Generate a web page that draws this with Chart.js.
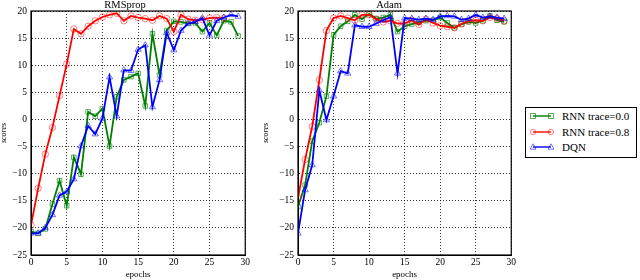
<!DOCTYPE html>
<html>
<head>
<meta charset="utf-8">
<script src="https://cdn.jsdelivr.net/npm/chart.js@4.4.1/dist/chart.umd.min.js"></script>
<style>
  body { margin: 0; background: #fff; width: 640px; height: 280px; position: relative; overflow: hidden; }
  canvas.plot { position: absolute; top: 0; }
  #legend {
    position: absolute; left: 525px; top: 107px; width: 112px; height: 51px;
    border: 1px solid #000; box-sizing: border-box;
    font-family: "Liberation Serif", serif; font-size: 11px; color: #000;
  }
  #legend .row { position: absolute; left: 0; height: 14px; line-height: 14px; }
  #legend canvas { position: absolute; left: 4px; top: 2px; }
  #legend span { position: absolute; left: 36px; top: 0; white-space: nowrap; }
</style>
</head>
<body>
<canvas class="plot" id="rmsChart" width="252" height="280" style="left:0px"></canvas>
<canvas class="plot" id="adamChart" width="256" height="280" style="left:262px"></canvas>
<div id="legend"></div>
<script>
'use strict';

const epochs = [0, 1, 2, 3, 4, 5, 6, 7, 8, 9, 10, 11, 12, 13, 14, 15, 16, 17, 18, 19, 20, 21, 22, 23, 24, 25, 26, 27, 28, 29];
const yTicks = [-25, -20, -15, -10, -5, 0, 5, 10, 15, 20];
const xTicks = [0, 5, 10, 15, 20, 25, 30];
const seriesNames = ['RNN trace=0.0', 'RNN trace=0.8', 'DQN'];

// RMSprop 패널
const rmsTrace00 = [-20.7, -21.0, -20.2, -15.6, -11.3, -15.9, -7.0, -10.1, 1.4, 0.6, 2.0, -4.9, 4.2, 7.3, 7.9, 8.5, 2.5, 15.8, 8.2, 16.4, 18.1, 18.0, 17.7, 17.8, 16.2, 17.8, 15.5, 18.2, 18.0, 15.4];
const rmsTrace08 = [-19.5, -12.7, -6.4, -1.5, 4.4, 10.2, 16.7, 15.8, 17.2, 18.2, 18.9, 19.3, 19.6, 18.2, 19.1, 18.8, 18.6, 18.3, 19.1, 18.6, 16.2, 19.3, 18.5, 18.3, 18.4, 18.7, 18.8, 18.7];
const rmsDqn = [-21.0, -21.0, -20.0, -17.6, -14.0, -13.3, -11.0, -4.9, -1.2, -2.7, 0.2, 7.8, 0.6, 9.1, 9.0, 12.9, 13.7, 2.3, 7.3, 16.0, 12.8, 16.4, 17.7, 18.0, 18.7, 15.5, 18.2, 18.8, 19.3, 19.0];

// Adam 패널
const adamTrace00 = [-16.1, -12.1, -4.0, -0.6, 4.3, 15.6, 17.2, 18.1, 19.3, 18.5, 19.5, 18.6, 18.8, 19.3, 16.2, 17.2, 17.6, 17.9, 18.2, 18.3, 18.8, 17.8, 16.9, 17.6, 18.0, 17.8, 18.2, 19.1, 18.3, 18.0];
const adamTrace08 = [-14.5, -7.4, -1.3, 7.3, 16.4, 18.7, 19.1, 18.7, 18.3, 19.3, 19.3, 18.5, 18.0, 18.2, 17.7, 17.7, 18.3, 17.5, 18.5, 17.8, 17.3, 17.1, 16.9, 17.6, 18.2, 18.3, 18.2, 18.8, 18.6, 18.2];
const adamDqn = [-21.0, -13.0, -8.4, 5.4, -0.1, 4.3, 8.9, 8.5, 17.4, 17.1, 17.1, 17.7, 18.3, 18.9, 8.5, 18.7, 18.6, 18.4, 18.6, 18.4, 19.0, 19.1, 19.0, 18.4, 18.6, 19.3, 18.8, 19.0, 18.8, 18.6];

const FONT = '"Liberation Serif", serif';
const styles = [
    { line: '#008000', marker: 'rgba(0,128,0,0.65)', shape: 'rect', radius: 3.2, order: 2 },
    { line: '#ff0000', marker: 'rgba(255,0,0,0.5)', shape: 'circle', radius: 3.2, order: 1 },
    { line: '#0000ff', marker: 'rgba(0,0,255,0.55)', shape: 'triangle', radius: 3.6, order: 0 }
];

function toPoints(values) {
    return values.map((v, i) => ({ x: epochs[i], y: v }));
}

function makeDataset(idx, values) {
    const s = styles[idx];
    return {
        label: seriesNames[idx],
        data: toPoints(values),
        borderColor: s.line,
        borderWidth: 1.8,
        tension: 0,
        pointStyle: s.shape,
        pointRadius: s.radius,
        pointBorderColor: s.marker,
        pointBackgroundColor: 'rgba(0,0,0,0)',
        pointBorderWidth: 1,
        order: s.order
    };
}

// 축 테두리 (사각 프레임)
const framePlugin = {
    id: 'frame',
    afterDraw(chart) {
        const a = chart.chartArea;
        const ctx = chart.ctx;
        ctx.save();
        ctx.strokeStyle = '#000';
        ctx.lineWidth = 1.2;
        ctx.strokeRect(a.left, a.top, a.right - a.left, a.bottom - a.top);
        ctx.restore();
    }
};

function minusLabel(v) {
    return v < 0 ? '\u2212' + Math.abs(v) : String(v);
}

function makeChart(id, title, series, yWidth) {
    return new Chart(document.getElementById(id).getContext('2d'), {
        type: 'line',
        data: { datasets: series.map((vals, i) => makeDataset(i, vals)) },
        options: {
            responsive: false,
            animation: false,
            layout: { padding: { left: 0, right: 2, top: 0, bottom: 0 } },
            plugins: {
                legend: { display: false },
                tooltip: { enabled: false },
                title: {
                    display: true, text: title, color: '#000',
                    font: { family: FONT, size: 10.5, weight: 'normal', lineHeight: 1.05 },
                    padding: { top: 0, bottom: 0 }
                }
            },
            scales: {
                x: {
                    type: 'linear', min: xTicks[0], max: xTicks[xTicks.length - 1],
                    afterBuildTicks: (s) => { s.ticks = xTicks.map(v => ({ value: v })); },
                    afterFit: (s) => { s.height = 25; },
                    ticks: { color: '#000', padding: 2, font: { family: FONT, size: 9.5 } },
                    grid: { color: '#000', lineWidth: 0.8, drawTicks: false },
                    border: { display: true, color: '#000', dash: [1, 2] },
                    title: { display: true, text: 'epochs', color: '#000', padding: { top: 0, bottom: 0 }, font: { family: FONT, size: 9, lineHeight: 1.1 } }
                },
                y: {
                    min: yTicks[0], max: yTicks[yTicks.length - 1],
                    afterBuildTicks: (s) => { s.ticks = yTicks.map(v => ({ value: v })); },
                    afterFit: (s) => { s.width = yWidth; },
                    ticks: { color: '#000', padding: 4, font: { family: FONT, size: 9.5 }, callback: minusLabel },
                    grid: { color: '#000', lineWidth: 0.8, drawTicks: false },
                    border: { display: true, color: '#000', dash: [1, 2] },
                    title: { display: true, text: 'scores', color: '#000', padding: { top: 0, bottom: 0 }, font: { family: FONT, size: 8, style: 'italic', lineHeight: 1 } }
                }
            }
        },
        plugins: [framePlugin]
    });
}

makeChart('rmsChart', 'RMSprop', [rmsTrace00, rmsTrace08, rmsDqn], 31);
makeChart('adamChart', 'Adam', [adamTrace00, adamTrace08, adamDqn], 36);

// 범례
const legendEl = document.getElementById('legend');
const rowTops = [1, 16.7, 32.3];
styles.forEach((s, i) => {
    const row = document.createElement('div');
    row.className = 'row';
    row.style.top = rowTops[i] + 'px';
    const icon = document.createElement('canvas');
    icon.width = 24; icon.height = 10;
    const c = icon.getContext('2d');
    c.strokeStyle = s.line; c.lineWidth = 1.4;
    c.beginPath(); c.moveTo(3, 5); c.lineTo(21, 5); c.stroke();
    c.strokeStyle = s.marker; c.lineWidth = 1;
    [3, 21].forEach(cx => {
        c.beginPath();
        if (s.shape === 'rect') c.rect(cx - 2.5, 2.5, 5, 5);
        else if (s.shape === 'circle') c.arc(cx, 5, 2.7, 0, Math.PI * 2);
        else { c.moveTo(cx, 1.8); c.lineTo(cx + 3, 7.2); c.lineTo(cx - 3, 7.2); c.closePath(); }
        c.stroke();
    });
    const label = document.createElement('span');
    label.textContent = seriesNames[i];
    row.appendChild(icon);
    row.appendChild(label);
    legendEl.appendChild(row);
});
</script>
</body>
</html>
